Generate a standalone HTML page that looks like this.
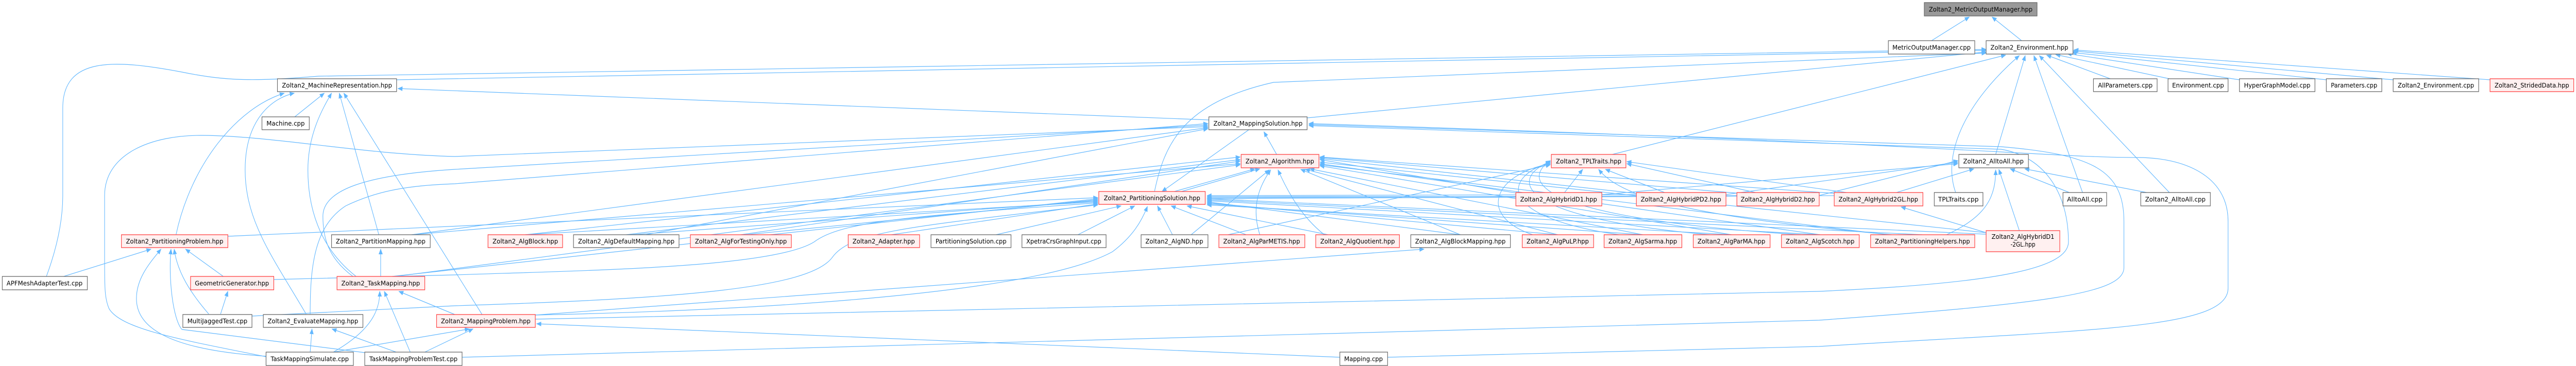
<!DOCTYPE html>
<html><head><meta charset="utf-8"><style>
html,body{margin:0;padding:0;background:#fff;width:100%;height:100%;overflow:hidden;}
svg{display:block;position:absolute;left:0;top:0;width:100vw;height:100vh;}
text{font-family:"DejaVu Sans","Liberation Sans",sans-serif;font-size:12px;fill:#000;}
.e{fill:none;stroke:#63b8ff;stroke-width:1.2;marker-end:url(#a);}
.w{fill:#fff;stroke:#666;stroke-width:1.3;}
.r{fill:#fff0f0;stroke:#ff4040;stroke-width:1.3;}
.g{fill:#999;stroke:#666;stroke-width:1.3;}
</style></head><body>
<svg viewBox="0 0 5664 711" preserveAspectRatio="none" xmlns="http://www.w3.org/2000/svg">
<defs><marker id="a" markerWidth="11" markerHeight="9" refX="10" refY="4.5" orient="auto" markerUnits="userSpaceOnUse"><path d="M0,0 L11,4.5 L0,9 z" fill="#63b8ff"/></marker></defs>
<g>
<path class="e" d="M4247,79 L4330,33"/>
<path class="e" d="M4445,79 L4380,33"/>
<path class="e" d="M4640,153 L4500,107"/>
<path class="e" d="M4770,153 L4520,106"/>
<path class="e" d="M4924,155 L4545,104"/>
<path class="e" d="M5115,155 L4556,102"/>
<path class="e" d="M5262,155 L4558,99"/>
<path class="e" d="M5475,155 L4560,97"/>
<path class="e" d="M4388,300 L4453,108"/>
<path class="e" d="M4300,374 C4270,300 4320,200 4440,108"/>
<path class="e" d="M4579,374 L4472,108"/>
<path class="e" d="M4770,374 L4484,108"/>
<path class="e" d="M872,155 L4367,98"/>
<path class="e" d="M102,537 C130,470 138,420 138,380 L138,210 C138,110 250,115 400,140 C500,158 560,158 700,148 L4367,96"/>
<path class="e" d="M2874,229 L4367,101"/>
<path class="e" d="M2538,374 C2560,280 2600,200 2800,160 L4367,103"/>
<path class="e" d="M3545,300 L4410,107"/>
<path class="e" d="M648,227 L713,181"/>
<path class="e" d="M387,456 C420,320 520,210 625,181"/>
<path class="e" d="M673,610 C600,500 539,430 539,330 C539,230 600,190 647,181"/>
<path class="e" d="M833,456 L746,181"/>
<path class="e" d="M1060,611 L756,181"/>
<path class="e" d="M783,537 C700,480 677,400 677,330 C677,260 710,210 729,181"/>
<path class="e" d="M2658,233 L875,172"/>
<path class="e" d="M2807,300 L2779,256"/>
<path class="e" d="M2746,252 L2555,372"/>
<path class="e" d="M585,693 C400,660 268,640 240,600 C230,580 230,560 230,500 L230,380 C230,300 330,262 446,263 C600,264 800,300 1000,304 L2656,246"/>
<path class="e" d="M776,537 C720,500 710,460 710,420 C710,370 800,340 1000,329 L2656,243"/>
<path class="e" d="M682,610 C682,520 690,440 760,400 C830,370 900,360 1000,357 L2656,240"/>
<path class="e" d="M905,456 L2656,248"/>
<path class="e" d="M1420,456 L2656,250"/>
<path class="e" d="M1177,620 L4000,566 C4400,550 4548,520 4548,470 C4548,380 4500,305 4400,290 L2878,244"/>
<path class="e" d="M1016,694 L4000,622 C4500,590 4670,570 4670,520 L4670,430 C4670,330 4600,300 4400,285 L2878,242"/>
<path class="e" d="M3051,694 L4000,673 C4600,640 4899,640 4899,560 L4899,430 C4899,340 4800,306 4700,306 C4500,306 4300,280 2878,240"/>
<path class="e" d="M1155,456 L2414,392"/>
<path class="e" d="M1390,456 L2414,390"/>
<path class="e" d="M1640,456 L2414,388"/>
<path class="e" d="M1960,456 L2414,396"/>
<path class="e" d="M2190,456 L2465,400"/>
<path class="e" d="M2370,456 L2495,400"/>
<path class="e" d="M2578,456 L2545,400"/>
<path class="e" d="M2740,456 L2575,400"/>
<path class="e" d="M2920,456 L2610,400"/>
<path class="e" d="M501,459 L2414,384"/>
<path class="e" d="M862,537 L2414,386"/>
<path class="e" d="M602,543 L1000,534 C1300,525 1700,520 1790,470 C1850,430 2000,420 2414,394"/>
<path class="e" d="M554,614 L1000,594 C1500,580 1780,560 1830,500 C1870,450 2000,440 2414,398"/>
<path class="e" d="M1177,612 C1800,600 2300,560 2446,489 C2490,460 2510,430 2523,401"/>
<path class="e" d="M3211,456 L2654,392"/>
<path class="e" d="M3425,456 L2654,394"/>
<path class="e" d="M3612,456 L2654,396"/>
<path class="e" d="M3807,456 L2654,398"/>
<path class="e" d="M4002,456 L2654,390"/>
<path class="e" d="M4227,456 L2654,388"/>
<path class="e" d="M4367,455 L2654,386"/>
<path class="e" d="M3333,382 L2654,382"/>
<path class="e" d="M3600,378 L2654,380"/>
<path class="e" d="M3830,380 L2654,384"/>
<path class="e" d="M4040,380 L2654,386"/>
<path class="e" d="M1177,612 L3131,484"/>
<path class="e" d="M2574,374 L2759,328"/>
<path class="e" d="M2590,374 L2770,328"/>
<path class="e" d="M2619,456 L2791,330"/>
<path class="e" d="M2770,456 C2750,400 2770,360 2794,330"/>
<path class="e" d="M2912,456 C2860,420 2830,370 2810,330"/>
<path class="e" d="M1155,456 L2727,305"/>
<path class="e" d="M1377,456 L2727,310"/>
<path class="e" d="M1629,456 L2727,313"/>
<path class="e" d="M905,456 L2727,318"/>
<path class="e" d="M870,537 L2727,320"/>
<path class="e" d="M3211,456 L2860,329"/>
<path class="e" d="M3425,456 L2870,329"/>
<path class="e" d="M3612,456 L2880,328"/>
<path class="e" d="M3807,456 L2902,322"/>
<path class="e" d="M4002,456 L2902,318"/>
<path class="e" d="M3340,376 L2902,310"/>
<path class="e" d="M3600,376 L2902,308"/>
<path class="e" d="M3830,376 L2902,306"/>
<path class="e" d="M4040,376 L2902,305"/>
<path class="e" d="M4150,456 L2902,320"/>
<path class="e" d="M4367,452 L2902,315"/>
<path class="e" d="M3440,374 L3480,329"/>
<path class="e" d="M3660,374 L3530,329"/>
<path class="e" d="M3860,374 L3577,318"/>
<path class="e" d="M4060,374 L3577,314"/>
<path class="e" d="M3370,456 C3250,420 3280,340 3409,318"/>
<path class="e" d="M3560,456 C3280,420 3310,340 3409,316"/>
<path class="e" d="M3760,456 C3300,420 3330,340 3409,314"/>
<path class="e" d="M3960,456 C3320,420 3360,340 3409,312"/>
<path class="e" d="M2700,456 L3409,320"/>
<path class="e" d="M4160,456 C3700,420 3560,380 3515,329"/>
<path class="e" d="M4170,374 L4340,328"/>
<path class="e" d="M4440,448 L4395,329"/>
<path class="e" d="M4280,456 C4370,420 4388,380 4388,330"/>
<path class="e" d="M4550,374 L4420,328"/>
<path class="e" d="M4720,374 L4452,328"/>
<path class="e" d="M3522,378 L4305,318"/>
<path class="e" d="M3795,378 L4305,315"/>
<path class="e" d="M3999,380 L4305,312"/>
<path class="e" d="M4367,452 L4180,402"/>
<path class="e" d="M140,537 L332,484"/>
<path class="e" d="M491,537 L408,484"/>
<path class="e" d="M459,610 C420,570 390,530 383,484"/>
<path class="e" d="M585,692 C380,680 300,640 300,580 C300,540 330,510 354,484"/>
<path class="e" d="M802,685 L400,640 C380,620 370,540 376,484"/>
<path class="e" d="M485,610 L501,566"/>
<path class="e" d="M837,537 L837,484"/>
<path class="e" d="M733,684 C820,640 835,600 835,566"/>
<path class="e" d="M902,684 L845,566"/>
<path class="e" d="M1000,611 L877,566"/>
<path class="e" d="M682,684 L686,639"/>
<path class="e" d="M871,684 L730,639"/>
<path class="e" d="M733,684 L1032,639"/>
<path class="e" d="M934,684 L1040,639"/>
<path class="e" d="M2946,694 L1180,629"/>
</g>
<g>
<rect class="g" x="4231" y="5" width="248" height="26"/><text x="4355" y="22.5" text-anchor="middle" textLength="228" lengthAdjust="spacingAndGlyphs">Zoltan2_MetricOutputManager.hpp</text>
<rect class="w" x="4152" y="79" width="190" height="26"/><text x="4247" y="96.5" text-anchor="middle" textLength="172" lengthAdjust="spacingAndGlyphs">MetricOutputManager.cpp</text>
<rect class="w" x="4367" y="79" width="191" height="26"/><text x="4462" y="96.5" text-anchor="middle" textLength="171" lengthAdjust="spacingAndGlyphs">Zoltan2_Environment.hpp</text>
<rect class="w" x="610" y="153" width="262" height="25"/><text x="741" y="170" text-anchor="middle" textLength="242" lengthAdjust="spacingAndGlyphs">Zoltan2_MachineRepresentation.hpp</text>
<rect class="w" x="4603" y="153" width="140" height="25"/><text x="4673" y="170" text-anchor="middle" textLength="120" lengthAdjust="spacingAndGlyphs">AllParameters.cpp</text>
<rect class="w" x="4767" y="153" width="132" height="25"/><text x="4833" y="170" text-anchor="middle" textLength="114" lengthAdjust="spacingAndGlyphs">Environment.cpp</text>
<rect class="w" x="4924" y="153" width="166" height="25"/><text x="5007" y="170" text-anchor="middle" textLength="146" lengthAdjust="spacingAndGlyphs">HyperGraphModel.cpp</text>
<rect class="w" x="5115" y="153" width="122" height="25"/><text x="5176" y="170" text-anchor="middle" textLength="102" lengthAdjust="spacingAndGlyphs">Parameters.cpp</text>
<rect class="w" x="5262" y="153" width="188" height="25"/><text x="5356" y="170" text-anchor="middle" textLength="168" lengthAdjust="spacingAndGlyphs">Zoltan2_Environment.cpp</text>
<rect class="r" x="5475" y="153" width="184" height="25"/><text x="5567" y="170" text-anchor="middle" textLength="164" lengthAdjust="spacingAndGlyphs">Zoltan2_StridedData.hpp</text>
<rect class="w" x="576" y="227" width="104" height="25"/><text x="628" y="244" text-anchor="middle" textLength="84" lengthAdjust="spacingAndGlyphs">Machine.cpp</text>
<rect class="w" x="2658" y="227" width="216" height="25"/><text x="2766" y="244" text-anchor="middle" textLength="196" lengthAdjust="spacingAndGlyphs">Zoltan2_MappingSolution.hpp</text>
<rect class="r" x="2729" y="300" width="171" height="26"/><text x="2814" y="317.5" text-anchor="middle" textLength="151" lengthAdjust="spacingAndGlyphs">Zoltan2_Algorithm.hpp</text>
<rect class="r" x="3411" y="300" width="164" height="26"/><text x="3493" y="317.5" text-anchor="middle" textLength="144" lengthAdjust="spacingAndGlyphs">Zoltan2_TPLTraits.hpp</text>
<rect class="w" x="4307" y="300" width="153" height="26"/><text x="4383" y="317.5" text-anchor="middle" textLength="133" lengthAdjust="spacingAndGlyphs">Zoltan2_AlltoAll.hpp</text>
<rect class="r" x="2416" y="372" width="234" height="25"/><text x="2533" y="389" text-anchor="middle" textLength="212" lengthAdjust="spacingAndGlyphs">Zoltan2_PartitioningSolution.hpp</text>
<rect class="r" x="3333" y="374" width="189" height="26"/><text x="3427" y="391.5" text-anchor="middle" textLength="169" lengthAdjust="spacingAndGlyphs">Zoltan2_AlgHybridD1.hpp</text>
<rect class="r" x="3598" y="374" width="197" height="26"/><text x="3696" y="391.5" text-anchor="middle" textLength="177" lengthAdjust="spacingAndGlyphs">Zoltan2_AlgHybridPD2.hpp</text>
<rect class="r" x="3819" y="374" width="181" height="26"/><text x="3909" y="391.5" text-anchor="middle" textLength="163" lengthAdjust="spacingAndGlyphs">Zoltan2_AlgHybridD2.hpp</text>
<rect class="r" x="4033" y="374" width="195" height="26"/><text x="4130" y="391.5" text-anchor="middle" textLength="175" lengthAdjust="spacingAndGlyphs">Zoltan2_AlgHybrid2GL.hpp</text>
<rect class="w" x="4253" y="374" width="107" height="26"/><text x="4306" y="391.5" text-anchor="middle" textLength="89" lengthAdjust="spacingAndGlyphs">TPLTraits.cpp</text>
<rect class="w" x="4536" y="374" width="96" height="26"/><text x="4584" y="391.5" text-anchor="middle" textLength="78" lengthAdjust="spacingAndGlyphs">AlltoAll.cpp</text>
<rect class="w" x="4707" y="374" width="153" height="26"/><text x="4783" y="391.5" text-anchor="middle" textLength="133" lengthAdjust="spacingAndGlyphs">Zoltan2_AlltoAll.cpp</text>
<rect class="r" x="267" y="456" width="234" height="25"/><text x="384" y="473" text-anchor="middle" textLength="214" lengthAdjust="spacingAndGlyphs">Zoltan2_PartitioningProblem.hpp</text>
<rect class="w" x="729" y="456" width="217" height="25"/><text x="837" y="473" text-anchor="middle" textLength="197" lengthAdjust="spacingAndGlyphs">Zoltan2_PartitionMapping.hpp</text>
<rect class="r" x="1073" y="456" width="164" height="25"/><text x="1155" y="473" text-anchor="middle" textLength="144" lengthAdjust="spacingAndGlyphs">Zoltan2_AlgBlock.hpp</text>
<rect class="w" x="1261" y="456" width="232" height="25"/><text x="1377" y="473" text-anchor="middle" textLength="212" lengthAdjust="spacingAndGlyphs">Zoltan2_AlgDefaultMapping.hpp</text>
<rect class="r" x="1518" y="456" width="222" height="25"/><text x="1629" y="473" text-anchor="middle" textLength="202" lengthAdjust="spacingAndGlyphs">Zoltan2_AlgForTestingOnly.hpp</text>
<rect class="r" x="1865" y="456" width="157" height="25"/><text x="1943" y="473" text-anchor="middle" textLength="137" lengthAdjust="spacingAndGlyphs">Zoltan2_Adapter.hpp</text>
<rect class="w" x="2047" y="456" width="176" height="25"/><text x="2135" y="473" text-anchor="middle" textLength="156" lengthAdjust="spacingAndGlyphs">PartitioningSolution.cpp</text>
<rect class="w" x="2247" y="456" width="185" height="25"/><text x="2339" y="473" text-anchor="middle" textLength="165" lengthAdjust="spacingAndGlyphs">XpetraCrsGraphInput.cpp</text>
<rect class="w" x="2509" y="456" width="147" height="25"/><text x="2582" y="473" text-anchor="middle" textLength="127" lengthAdjust="spacingAndGlyphs">Zoltan2_AlgND.hpp</text>
<rect class="r" x="2680" y="456" width="189" height="25"/><text x="2774" y="473" text-anchor="middle" textLength="169" lengthAdjust="spacingAndGlyphs">Zoltan2_AlgParMETIS.hpp</text>
<rect class="r" x="2893" y="456" width="184" height="25"/><text x="2985" y="473" text-anchor="middle" textLength="164" lengthAdjust="spacingAndGlyphs">Zoltan2_AlgQuotient.hpp</text>
<rect class="w" x="3102" y="456" width="219" height="25"/><text x="3211" y="473" text-anchor="middle" textLength="199" lengthAdjust="spacingAndGlyphs">Zoltan2_AlgBlockMapping.hpp</text>
<rect class="r" x="3347" y="456" width="157" height="25"/><text x="3425" y="473" text-anchor="middle" textLength="137" lengthAdjust="spacingAndGlyphs">Zoltan2_AlgPuLP.hpp</text>
<rect class="r" x="3527" y="456" width="171" height="25"/><text x="3612" y="473" text-anchor="middle" textLength="151" lengthAdjust="spacingAndGlyphs">Zoltan2_AlgSarma.hpp</text>
<rect class="r" x="3723" y="456" width="169" height="25"/><text x="3807" y="473" text-anchor="middle" textLength="149" lengthAdjust="spacingAndGlyphs">Zoltan2_AlgParMA.hpp</text>
<rect class="r" x="3917" y="456" width="171" height="25"/><text x="4002" y="473" text-anchor="middle" textLength="151" lengthAdjust="spacingAndGlyphs">Zoltan2_AlgScotch.hpp</text>
<rect class="r" x="4113" y="456" width="229" height="25"/><text x="4227" y="473" text-anchor="middle" textLength="209" lengthAdjust="spacingAndGlyphs">Zoltan2_PartitioningHelpers.hpp</text>
<rect class="r" x="4367" y="448" width="162" height="41"/><text x="4448" y="464" text-anchor="middle" textLength="138" lengthAdjust="spacingAndGlyphs">Zoltan2_AlgHybridD1</text><text x="4448" y="479" text-anchor="middle">-2GL.hpp</text>
<rect class="w" x="5" y="537" width="187" height="26"/><text x="98" y="554.5" text-anchor="middle" textLength="167" lengthAdjust="spacingAndGlyphs">APFMeshAdapterTest.cpp</text>
<rect class="r" x="419" y="537" width="183" height="26"/><text x="510" y="554.5" text-anchor="middle" textLength="163" lengthAdjust="spacingAndGlyphs">GeometricGenerator.hpp</text>
<rect class="r" x="741" y="537" width="193" height="26"/><text x="837" y="554.5" text-anchor="middle" textLength="173" lengthAdjust="spacingAndGlyphs">Zoltan2_TaskMapping.hpp</text>
<rect class="w" x="402" y="611" width="152" height="25"/><text x="478" y="628" text-anchor="middle" textLength="132" lengthAdjust="spacingAndGlyphs">MultiJaggedTest.cpp</text>
<rect class="w" x="579" y="611" width="219" height="25"/><text x="688" y="628" text-anchor="middle" textLength="199" lengthAdjust="spacingAndGlyphs">Zoltan2_EvaluateMapping.hpp</text>
<rect class="r" x="960" y="611" width="217" height="25"/><text x="1068" y="628" text-anchor="middle" textLength="197" lengthAdjust="spacingAndGlyphs">Zoltan2_MappingProblem.hpp</text>
<rect class="w" x="585" y="684" width="192" height="26"/><text x="681" y="701.5" text-anchor="middle" textLength="172" lengthAdjust="spacingAndGlyphs">TaskMappingSimulate.cpp</text>
<rect class="w" x="802" y="684" width="214" height="26"/><text x="909" y="701.5" text-anchor="middle" textLength="194" lengthAdjust="spacingAndGlyphs">TaskMappingProblemTest.cpp</text>
<rect class="w" x="2946" y="684" width="105" height="26"/><text x="2998" y="701.5" text-anchor="middle" textLength="85" lengthAdjust="spacingAndGlyphs">Mapping.cpp</text>
</g>
</svg>
</body></html>
